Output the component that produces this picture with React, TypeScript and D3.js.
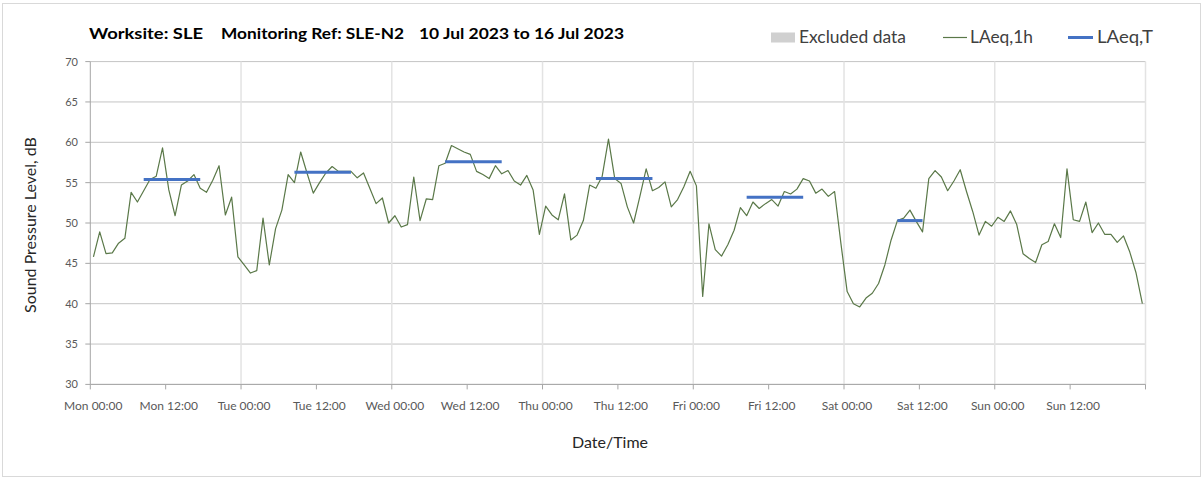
import React from "react";
import * as d3 from "d3";

// Hourly LAeq,1h values, Mon 00:00 .. Sun 23:00 (plotted at mid-hour)
const laeqMon = [45.8, 48.9, 46.2, 46.3, 47.5, 48.1, 53.8, 52.6, 54.0, 55.4, 55.8, 59.3, 54.1, 50.9, 54.7, 55.2, 56.0, 54.3, 53.8, 55.3, 57.1, 51.0, 53.2, 45.8];
const laeqTue = [44.8, 43.8, 44.1, 50.6, 44.8, 49.3, 51.6, 56.0, 55.0, 58.8, 56.2, 53.7, 55.0, 56.2, 57.0, 56.4, 56.4, 56.4, 55.6, 56.2, 54.3, 52.4, 53.1, 50.0];
const laeqWed = [50.9, 49.5, 49.8, 55.7, 50.3, 53.0, 52.9, 57.1, 57.4, 59.6, 59.2, 58.8, 58.5, 56.4, 56.0, 55.5, 57.1, 56.1, 56.5, 55.2, 54.7, 55.9, 54.1, 48.6];
const laeqThu = [52.1, 51.0, 50.4, 53.6, 47.9, 48.5, 50.3, 54.7, 54.3, 55.8, 60.4, 55.5, 54.9, 52.0, 50.0, 53.3, 56.7, 54.0, 54.4, 55.1, 52.0, 52.9, 54.5, 56.4];
const laeqFri = [54.6, 40.9, 49.9, 46.7, 45.9, 47.3, 49.1, 51.9, 50.9, 52.6, 51.8, 52.4, 52.9, 52.1, 53.9, 53.6, 54.2, 55.5, 55.2, 53.7, 54.2, 53.3, 53.9, 47.5];
const laeqSat = [41.5, 40.0, 39.6, 40.7, 41.3, 42.5, 44.8, 47.9, 50.3, 50.6, 51.6, 50.2, 48.9, 55.5, 56.5, 55.7, 54.0, 55.2, 56.6, 53.9, 51.4, 48.5, 50.2, 49.6];
const laeqSun = [50.7, 50.2, 51.5, 49.8, 46.2, 45.6, 45.1, 47.3, 47.7, 49.9, 48.2, 56.7, 50.4, 50.2, 52.6, 48.8, 50.0, 48.6, 48.6, 47.6, 48.4, 46.4, 43.8, 40.0];

// LAeq,T periods
const periodDay = [0, 1, 2, 3, 4, 5];
const periodStartHour = [8, 8, 8, 8, 8, 8];
const periodEndHour = [18, 18, 18, 18, 18, 13];
const periodValue = [55.4, 56.3, 57.6, 55.5, 53.2, 50.3];

const dayNames = ["Mon", "Tue", "Wed", "Thu", "Fri", "Sat", "Sun"];
const yTicks = [30, 35, 40, 45, 50, 55, 60, 65, 70];

const W = 1203;
const H = 479;
const FONT = "Lato, 'Open Sans', sans-serif";

export default function App() {
  const hourly = [...laeqMon, ...laeqTue, ...laeqWed, ...laeqThu, ...laeqFri, ...laeqSat, ...laeqSun];
  const x = d3.scaleLinear().domain([0, 168]).range([90.3, 1145.5]);
  const y = d3.scaleLinear().domain([30, 70]).range([384.4, 61.6]);

  const line = d3
    .line<number>()
    .x((_, i) => x(i + 0.5))
    .y((d) => y(d));

  const xTicks = d3.range(0, 169, 12);
  const x0 = x(0);
  const x1 = x(168);

  return (
    <div style={{ position: "absolute", left: 0, top: 0 }}>
      <svg width={W} height={H} style={{ display: "block", background: "#fff" }}>
        <rect x={2.5} y={3.5} width={1198} height={473} fill="#fff" stroke="#d9d9d9" />

        {/* Title */}
        <g fontFamily={FONT} fontWeight="bold" fontSize={16} fill="#000">
          <text x={89} y={39} textLength={114} lengthAdjust="spacingAndGlyphs">Worksite: SLE</text>
          <text x={221} y={39} textLength={183} lengthAdjust="spacingAndGlyphs">Monitoring Ref: SLE-N2</text>
          <text x={419} y={39} textLength={205} lengthAdjust="spacingAndGlyphs">10 Jul 2023 to 16 Jul 2023</text>
        </g>

        {/* Legend */}
        <g fontFamily={FONT} fontSize={16.5} fill="#404040">
          <rect x={771} y={32.5} width={24} height={10} fill="#d0d0d0" />
          <text x={799} y={43} textLength={107} lengthAdjust="spacingAndGlyphs">Excluded data</text>
          <line x1={943} x2={967} y1={37.5} y2={37.5} stroke="#5a7848" strokeWidth={1.2} />
          <text x={970} y={43} textLength={63} lengthAdjust="spacingAndGlyphs">LAeq,1h</text>
          <line x1={1068} x2={1093} y1={37.5} y2={37.5} stroke="#4472c4" strokeWidth={3} />
          <text x={1097} y={43} textLength={56} lengthAdjust="spacingAndGlyphs">LAeq,T</text>
        </g>

        {/* Horizontal gridlines */}
        {yTicks.map((t) => (
          <line key={"hg" + t} x1={x0} x2={x1} y1={y(t)} y2={y(t)} stroke="#c4c4c4" strokeWidth={1} />
        ))}
        {/* Vertical gridlines at day boundaries */}
        {d3.range(24, 169, 24).map((h) => (
          <line key={"vg" + h} x1={x(h)} x2={x(h)} y1={y(70)} y2={y(30)} stroke="#e3e3e3" strokeWidth={1.5} />
        ))}

        {/* Axes */}
        <line x1={x0} x2={x0} y1={y(70)} y2={y(30)} stroke="#a6a6a6" />
        <line x1={x0} x2={x1} y1={y(30)} y2={y(30)} stroke="#a6a6a6" />
        {yTicks.map((t) => (
          <g key={"yt" + t}>
            <line x1={x0 - 5} x2={x0} y1={y(t)} y2={y(t)} stroke="#a6a6a6" />
            <text x={78} y={y(t) + 4} textAnchor="end" fontFamily={FONT} fontSize={11} fill="#595959">
              {t}
            </text>
          </g>
        ))}
        {xTicks.map((h) => (
          <g key={"xt" + h}>
            <line x1={x(h)} x2={x(h)} y1={y(30)} y2={y(30) + 5} stroke="#a6a6a6" />
            {h < 168 && (
              <text x={x(h) + 3} y={410} textAnchor="middle" fontFamily={FONT} fontSize={12} fill="#595959">
                {`${dayNames[Math.floor(h / 24)]} ${h % 24 === 0 ? "00:00" : "12:00"}`}
              </text>
            )}
          </g>
        ))}

        {/* Axis titles */}
        <text
          transform={`translate(36,225) rotate(-90)`}
          textAnchor="middle"
          fontFamily={FONT}
          fontSize={16}
          fill="#262626"
        >
          Sound Pressure Level, dB
        </text>
        <text x={610} y={448} textAnchor="middle" fontFamily={FONT} fontSize={16} fill="#262626">
          Date/Time
        </text>

        {/* LAeq,1h line */}
        <path d={line(hourly) || ""} fill="none" stroke="#5a7848" strokeWidth={1.2} strokeLinejoin="round" />

        {/* LAeq,T lines */}
        {periodDay.map((d, i) => (
          <line
            key={"p" + i}
            x1={x(d * 24 + periodStartHour[i] + 0.5)}
            x2={x(d * 24 + periodEndHour[i] - 0.5)}
            y1={y(periodValue[i])}
            y2={y(periodValue[i])}
            stroke="#4472c4"
            strokeWidth={3}
          />
        ))}
      </svg>
    </div>
  );
}
